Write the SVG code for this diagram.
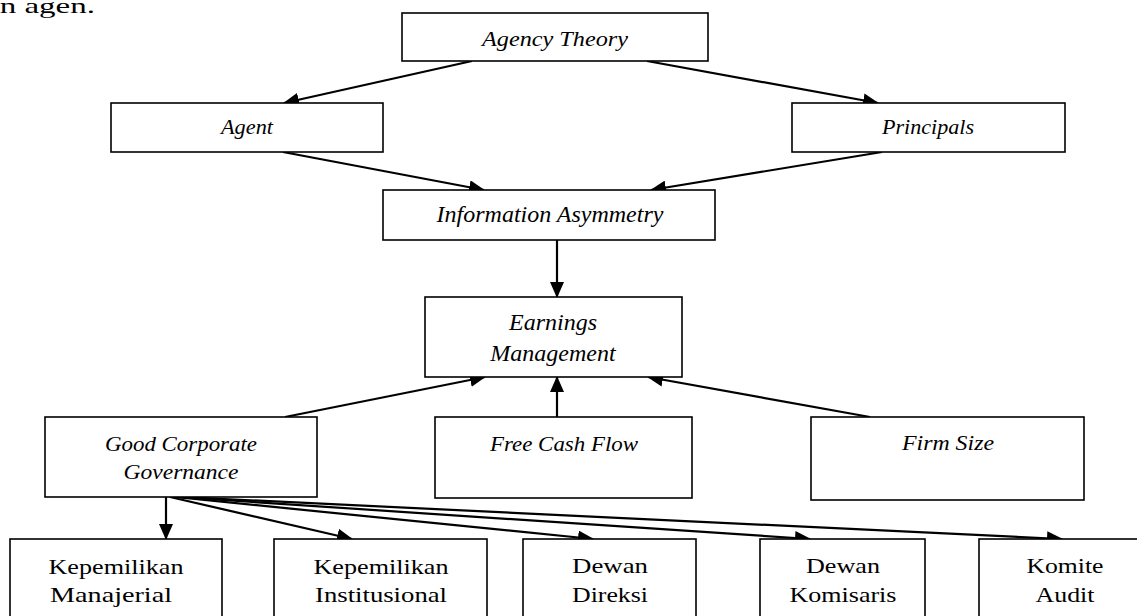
<svg xmlns="http://www.w3.org/2000/svg" width="1137" height="616" viewBox="0 0 1137 616">
<style>
.box{fill:#fff;stroke:#000;stroke-width:1.6}
.c{stroke:#000;stroke-width:2.2;fill:none;marker-end:url(#ah)}
.pi{font-family:"Liberation Serif","Times New Roman",serif;font-style:italic;font-size:21px;text-anchor:middle;fill:#000}
.ti{font-family:"Liberation Serif","Times New Roman",serif;font-style:italic;font-size:24px;text-anchor:middle;fill:#000}
.pu{font-family:"Liberation Serif","Times New Roman",serif;font-size:22px;text-anchor:middle;fill:#000}
</style>
<defs>
<marker id="ah" markerWidth="16" markerHeight="14" refX="15" refY="7" orient="auto" markerUnits="userSpaceOnUse">
<path d="M0,0 L16,7 L0,14 z" fill="#000"/>
</marker>
</defs>
<rect width="1137" height="616" fill="#fff"/>
<text x="-15" y="13" font-family="'Liberation Serif','Times New Roman',serif" font-size="22" textLength="110" lengthAdjust="spacingAndGlyphs" fill="#000">an agen.</text>

<g id="connectors">
<line class="c" x1="472" y1="61" x2="284" y2="103"/>
<line class="c" x1="647" y1="61" x2="878" y2="103"/>
<line class="c" x1="283" y1="152" x2="484" y2="190"/>
<line class="c" x1="882" y1="152" x2="651" y2="190"/>
<line class="c" x1="557" y1="240" x2="557" y2="297"/>
<line class="c" x1="285" y1="417" x2="485" y2="377"/>
<line class="c" x1="557" y1="417" x2="557" y2="377"/>
<line class="c" x1="870" y1="417" x2="648" y2="377"/>
<line class="c" x1="166" y1="497" x2="166" y2="539"/>
<line class="c" x1="170" y1="497" x2="352" y2="539"/>
<line class="c" x1="175" y1="497" x2="593" y2="539"/>
<line class="c" x1="178" y1="497" x2="810" y2="539"/>
<line class="c" x1="182" y1="497" x2="1062" y2="539"/>
</g>

<g id="agency-theory">
<rect class="box" x="402" y="13" width="306" height="48"/>
<text class="pi" x="555" y="46" textLength="146" lengthAdjust="spacingAndGlyphs">Agency Theory</text>
</g>
<g id="agent">
<rect class="box" x="111" y="103" width="272" height="49"/>
<text class="pi" x="247" y="134" textLength="52" lengthAdjust="spacingAndGlyphs">Agent</text>
</g>
<g id="principals">
<rect class="box" x="792" y="103" width="273" height="49"/>
<text class="pi" x="928" y="134" textLength="92" lengthAdjust="spacingAndGlyphs">Principals</text>
</g>
<g id="information-asymmetry">
<rect class="box" x="383" y="190" width="332" height="50"/>
<text class="ti" x="550" y="222">Information Asymmetry</text>
</g>
<g id="earnings-management">
<rect class="box" x="425" y="297" width="257" height="80"/>
<text class="ti" x="553" y="330">Earnings</text>
<text class="ti" x="553" y="361">Management</text>
</g>
<g id="gcg">
<rect class="box" x="45" y="417" width="272" height="80"/>
<text class="pi" x="181" y="451" textLength="152" lengthAdjust="spacingAndGlyphs">Good Corporate</text>
<text class="pi" x="181" y="479" textLength="115" lengthAdjust="spacingAndGlyphs">Governance</text>
</g>
<g id="free-cash-flow">
<rect class="box" x="435" y="417" width="257" height="81"/>
<text class="pi" x="564" y="451" textLength="148" lengthAdjust="spacingAndGlyphs">Free Cash Flow</text>
</g>
<g id="firm-size">
<rect class="box" x="811" y="417" width="273" height="83"/>
<text class="pi" x="948" y="450" textLength="92" lengthAdjust="spacingAndGlyphs">Firm Size</text>
</g>
<g id="kepemilikan-manajerial">
<rect class="box" x="10" y="539" width="212" height="100"/>
<text class="pu" x="116" y="574" textLength="135" lengthAdjust="spacingAndGlyphs">Kepemilikan</text>
<text class="pu" x="111" y="602" textLength="122" lengthAdjust="spacingAndGlyphs">Manajerial</text>
</g>
<g id="kepemilikan-institusional">
<rect class="box" x="274" y="539" width="213" height="100"/>
<text class="pu" x="381" y="574" textLength="135" lengthAdjust="spacingAndGlyphs">Kepemilikan</text>
<text class="pu" x="381" y="602" textLength="132" lengthAdjust="spacingAndGlyphs">Institusional</text>
</g>
<g id="dewan-direksi">
<rect class="box" x="523" y="539" width="173" height="100"/>
<text class="pu" x="610" y="573" textLength="76" lengthAdjust="spacingAndGlyphs">Dewan</text>
<text class="pu" x="610" y="602" textLength="76" lengthAdjust="spacingAndGlyphs">Direksi</text>
</g>
<g id="dewan-komisaris">
<rect class="box" x="760" y="539" width="165" height="100"/>
<text class="pu" x="843" y="573" textLength="74" lengthAdjust="spacingAndGlyphs">Dewan</text>
<text class="pu" x="843" y="602" textLength="107" lengthAdjust="spacingAndGlyphs">Komisaris</text>
</g>
<g id="komite-audit">
<rect class="box" x="979" y="539" width="172" height="100"/>
<text class="pu" x="1065" y="573" textLength="77" lengthAdjust="spacingAndGlyphs">Komite</text>
<text class="pu" x="1065" y="602" textLength="59" lengthAdjust="spacingAndGlyphs">Audit</text>
</g>
</svg>
